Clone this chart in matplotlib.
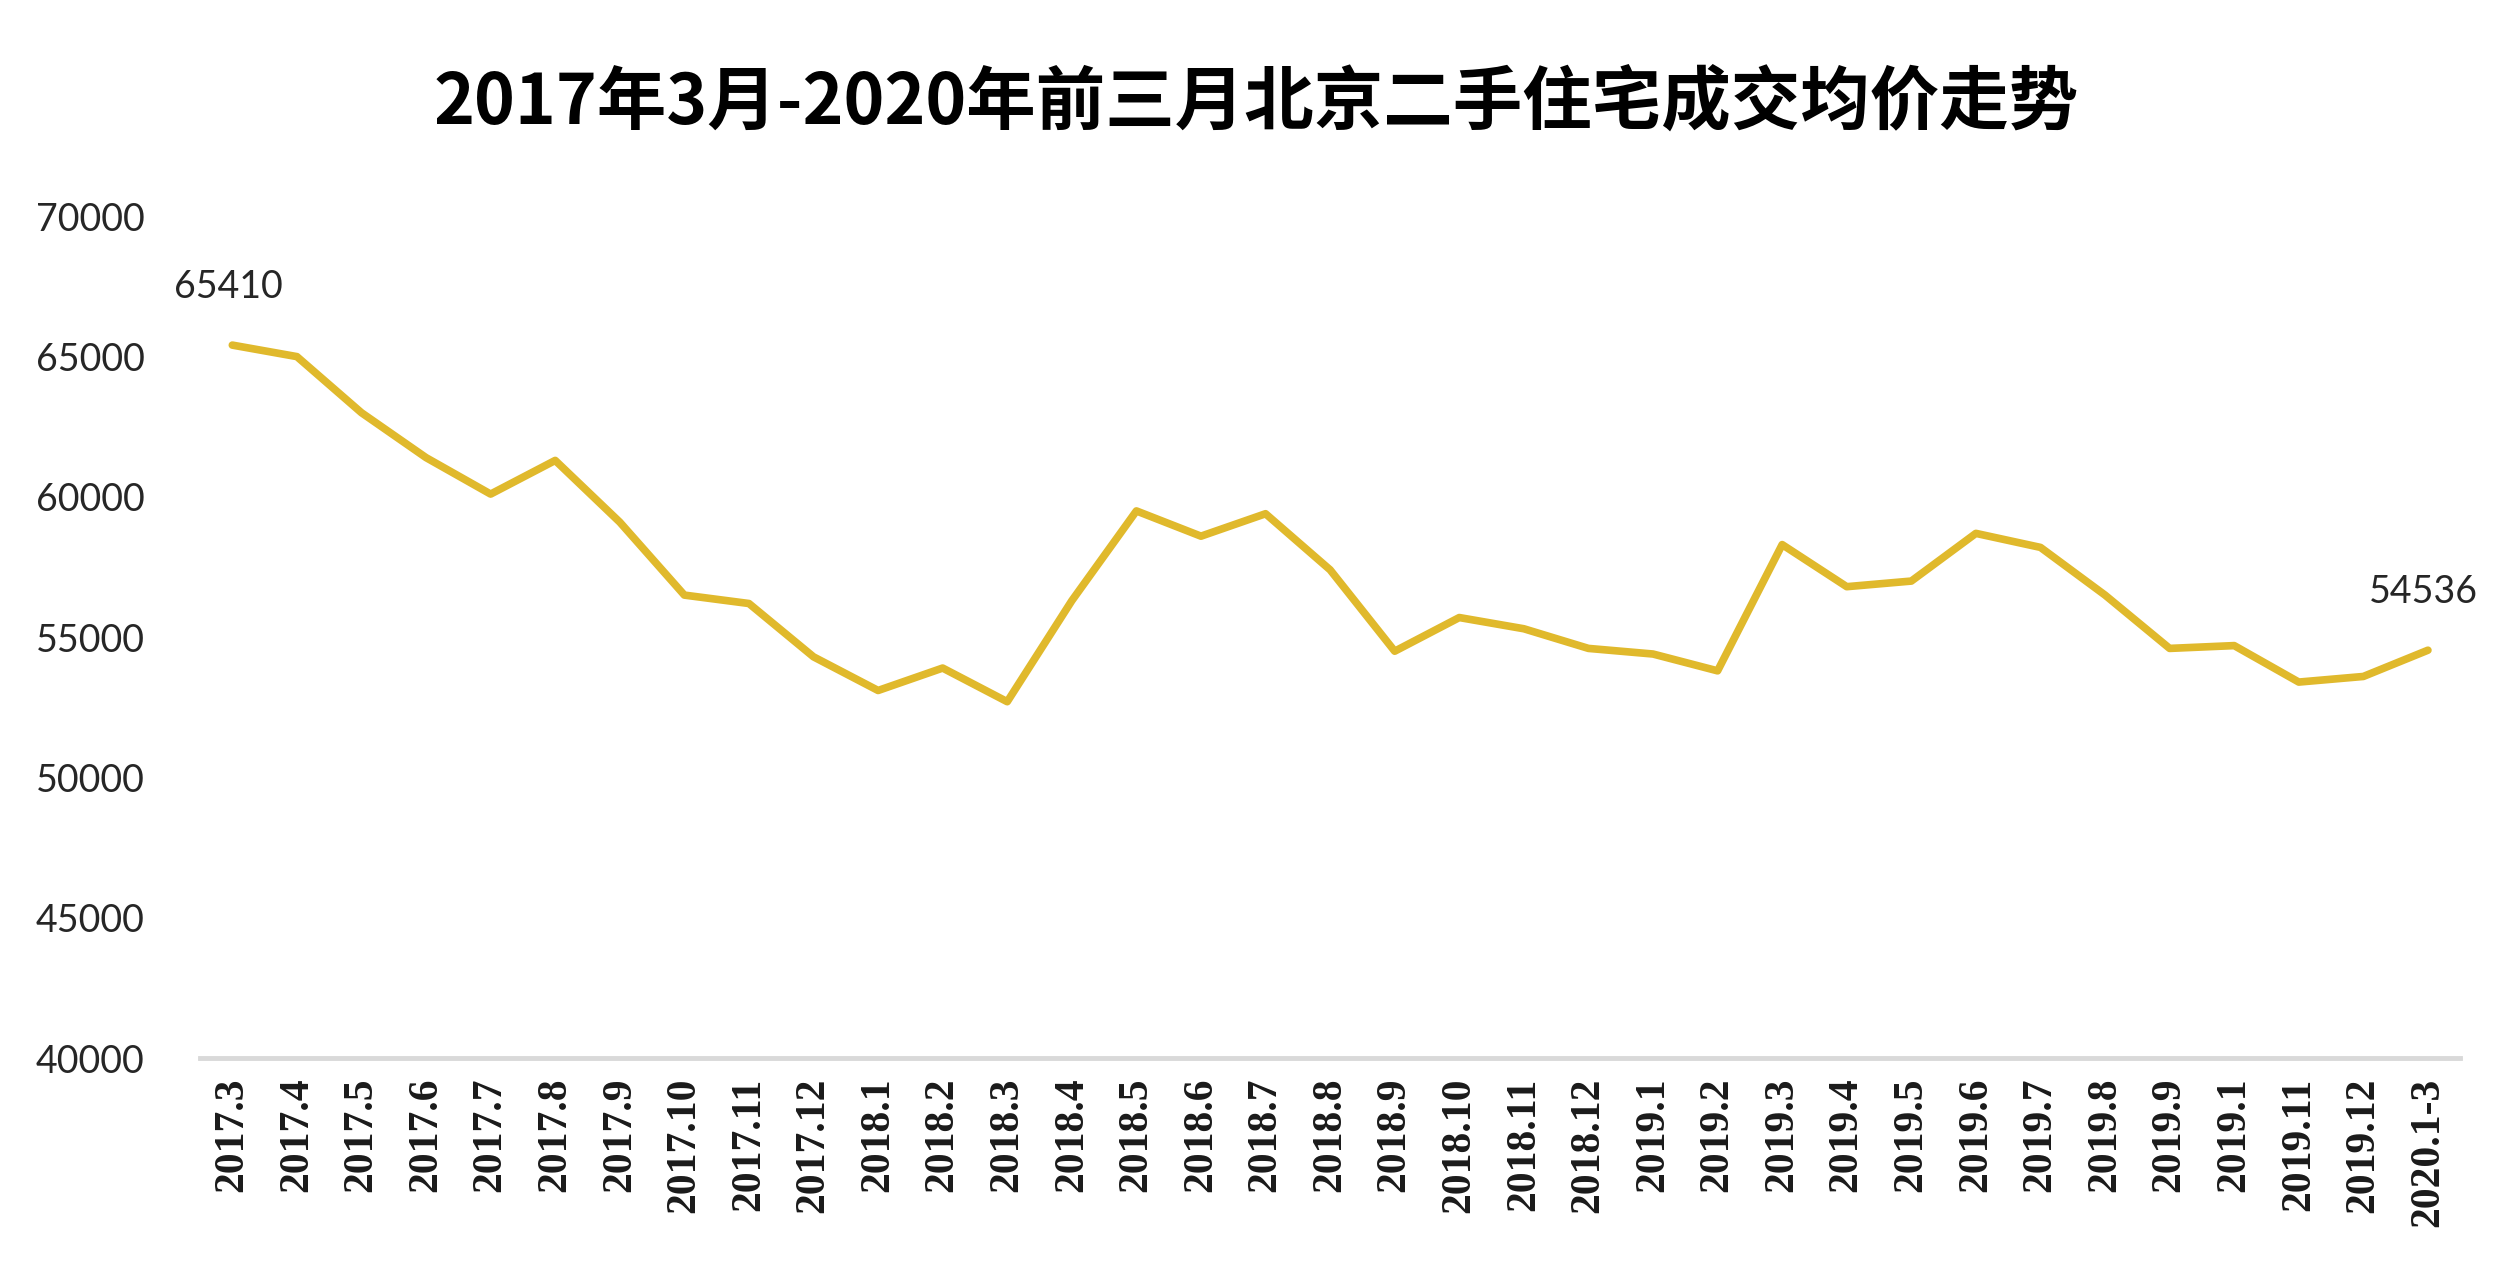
import matplotlib
matplotlib.use("Agg")
import matplotlib.pyplot as plt

plt.rcParams['font.family'] = ['Noto Sans CJK SC', 'DejaVu Sans']

months = ["2017.3", "2017.4", "2017.5", "2017.6", "2017.7", "2017.8", "2017.9",
          "2017.10", "2017.11", "2017.12",
          "2018.1", "2018.2", "2018.3", "2018.4", "2018.5", "2018.6", "2018.7",
          "2018.8", "2018.9", "2018.10", "2018.11", "2018.12",
          "2019.1", "2019.2", "2019.3", "2019.4", "2019.5", "2019.6", "2019.7",
          "2019.8", "2019.9", "2019.1", "2019.11", "2019.12", "2020.1-3"]
prices = [65410, 65000, 63000, 61400, 60100, 61300, 59100, 56500, 56200, 54300,
          53100, 53900, 52700, 56300, 59500, 58600, 59400, 57400, 54500, 55700,
          55300, 54600, 54400, 53800, 58300, 56800, 57000, 58700, 58200, 56500,
          54600, 54700, 53400, 53600, 54536]
yticks = [40000, 45000, 50000, 55000, 60000, 65000, 70000]

fig = plt.figure(figsize=(25.13, 12.8), dpi=100)
ax = fig.add_axes([0.0796, 0.1734, 0.8994, 0.6576])

x = list(range(len(months)))
ax.plot(x, prices, color='#E0B92C', lw=5.5, solid_joinstyle='round', solid_capstyle='round')

ax.set_xlim(-0.5, len(months) - 0.5)
ax.set_ylim(40000, 70000)
ax.set_yticks(yticks)
ax.set_yticklabels([str(v) for v in yticks], family='Lato', fontsize=27, color='#262626')
ax.set_xticks(x)
ax.set_xticklabels(months, rotation=90, family='Liberation Serif', fontweight='bold',
                   fontsize=30, color='#1a1a1a', va='top')
ax.tick_params(axis='y', length=0, pad=40)
ax.tick_params(axis='x', length=0, pad=14)

for s in ['top', 'right', 'left']:
    ax.spines[s].set_visible(False)
ax.spines['bottom'].set_color('#d9d9d9')
ax.spines['bottom'].set_linewidth(3.5)

ax.annotate(str(prices[0]), (x[0], prices[0]), xytext=(-3, 42), textcoords='offset points',
            ha='center', va='center', family='Lato', fontsize=27, color='#262626')
ax.annotate(str(prices[-1]), (x[-1], prices[-1]), xytext=(-3, 42), textcoords='offset points',
            ha='center', va='center', family='Lato', fontsize=27, color='#262626')

fig.text(0.5, 0.919, "2017年3月-2020年前三月北京二手住宅成交均价走势",
         ha='center', va='center', fontsize=50, fontweight='bold')

fig.savefig('out.png', dpi=100, facecolor='white')
